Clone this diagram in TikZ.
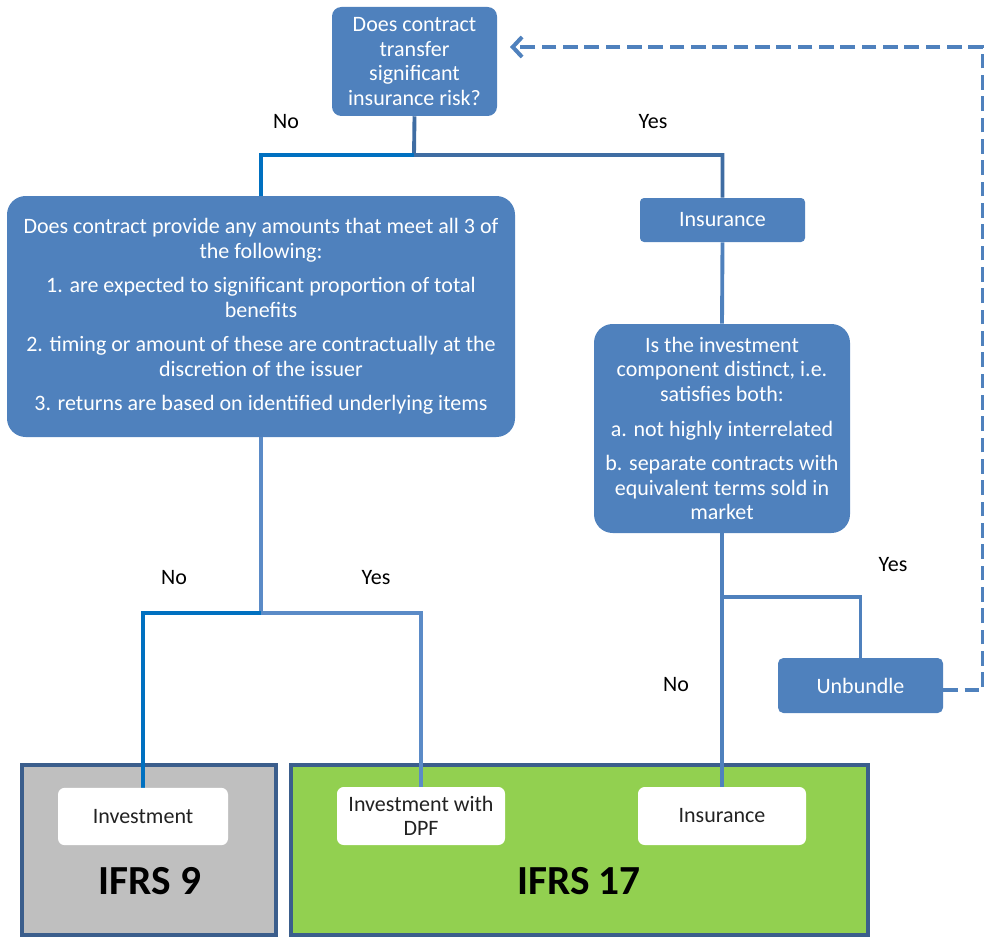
\documentclass[tikz,border=0pt]{standalone}
\usepackage{fontspec}
\setmainfont{Carlito}
\usetikzlibrary{arrows.meta}
\definecolor{boxblue}{HTML}{4F81BD}
\definecolor{bright}{HTML}{0070C0}
\definecolor{darkln}{HTML}{3F6DA3}
\definecolor{lightln}{HTML}{5B8BC7}
\definecolor{frame}{HTML}{3B5E8C}
\definecolor{grayfill}{HTML}{BFBFBF}
\definecolor{greenfill}{HTML}{92D050}
\definecolor{txt}{HTML}{222222}
\tikzset{
  bluebox/.style={fill=boxblue, draw=none, text=white, align=center, inner sep=0pt,
    font=\fontsize{16.5}{18.4}\selectfont},
  whitebox/.style={fill=white, draw=none, rounded corners=5pt, text=txt, align=center, inner sep=0pt,
    minimum width=126pt, minimum height=43pt, font=\fontsize{16.5}{18.4}\selectfont},
  stdbox/.style={draw=frame, line width=3pt, inner sep=0pt},
  lbl/.style={text=black, font=\fontsize{16.5}{18.4}\selectfont, inner sep=0pt},
  ln/.style={line width=2.9pt},
  dashln/.style={line width=3pt, boxblue, dash pattern=on 11pt off 5pt}
}
\begin{document}
\begin{tikzpicture}[x=0.75pt,y=-0.75pt]
\useasboundingbox (0,0) rectangle (984,938);
% outcome frames
\node[stdbox, fill=grayfill, minimum width=190.5pt, minimum height=127pt] (ifrs9) at (149,850) {};
\node[stdbox, fill=greenfill, minimum width=432.75pt, minimum height=127pt] (ifrs17) at (579.5,850) {};
\node[font=\fontsize{31}{36}\bfseries\selectfont, text=black] (t9) at (150,881) {IFRS 9};
\node[font=\fontsize{31}{36}\bfseries\selectfont, text=black] (t17) at (579,881) {IFRS 17};
% question boxes
\node[bluebox, rounded corners=7pt, minimum width=123.75pt, minimum height=81.75pt] (q1) at (414.5,61.5)
  {Does contract\\transfer\\significant\\insurance risk?};
\node[bluebox, rounded corners=14pt, minimum width=381pt, minimum height=180.75pt] (q2) at (261,316.5)
  {Does contract provide any amounts that meet all 3 of\\the following:\\[7.5pt]
   1. are expected to significant proportion of total\\benefits\\[7.5pt]
   2. timing or amount of these are contractually at the\\discretion of the issuer\\[7.5pt]
   3. returns are based on identified underlying items};
\node[bluebox, rounded corners=3pt, minimum width=123.75pt, minimum height=33pt] (ins1) at (722.5,220) {Insurance};
\node[bluebox, rounded corners=14pt, minimum width=192pt, minimum height=156.75pt] (q3) at (722,428.5)
  {Is the investment\\component distinct, i.e.\\satisfies both:\\[7.5pt]
   a. not highly interrelated\\[7.5pt]
   b. separate contracts with\\equivalent terms sold in\\market};
\node[bluebox, rounded corners=4pt, minimum width=123.75pt, minimum height=41.25pt] (unb) at (860.5,685.5) {Unbundle};
% junctions
\coordinate (j1) at (414,155);
\coordinate (j2) at (261,613);
\coordinate (j3) at (722,597);
\coordinate (arr) at (510,47);
\coordinate (dc) at (983,690);
% connectors
\draw[ln, darkln] (q1.south) -- (j1) -| (ins1.north);
\draw[ln, bright] (j1) -| (q2.north);
\draw[ln, boxblue] (ins1.south) -- (q3.north);
\draw[ln, lightln] (q2.south) -- (j2);
\draw[ln, bright] (j2) -| (143,790);
\draw[ln, lightln] (j2) -| (421,790);
\draw[ln, boxblue] (q3.south) -- (722,790);
\draw[ln, boxblue] (j3) -| (unb.north);
\draw[dashln, -{Straight Barb[length=7pt,width=15pt,line width=3pt]}] (unb.east |- dc) -- (dc) |- (arr);
% white boxes
\node[whitebox, minimum width=127.5pt] (inv) at (143,816.5) {Investment};
\node[whitebox, minimum height=43.5pt] (dpf) at (421,816) {Investment with\\DPF};
\node[whitebox, minimum height=43.5pt] (ins2) at (722,816) {Insurance};
% labels
\node[lbl] (l1) at (286,122) {No};
\node[lbl] (l2) at (653,122) {Yes};
\node[lbl] (l3) at (174,578) {No};
\node[lbl] (l4) at (376,578) {Yes};
\node[lbl] (l5) at (893,565) {Yes};
\node[lbl] (l6) at (676,685) {No};
\end{tikzpicture}
\end{document}
